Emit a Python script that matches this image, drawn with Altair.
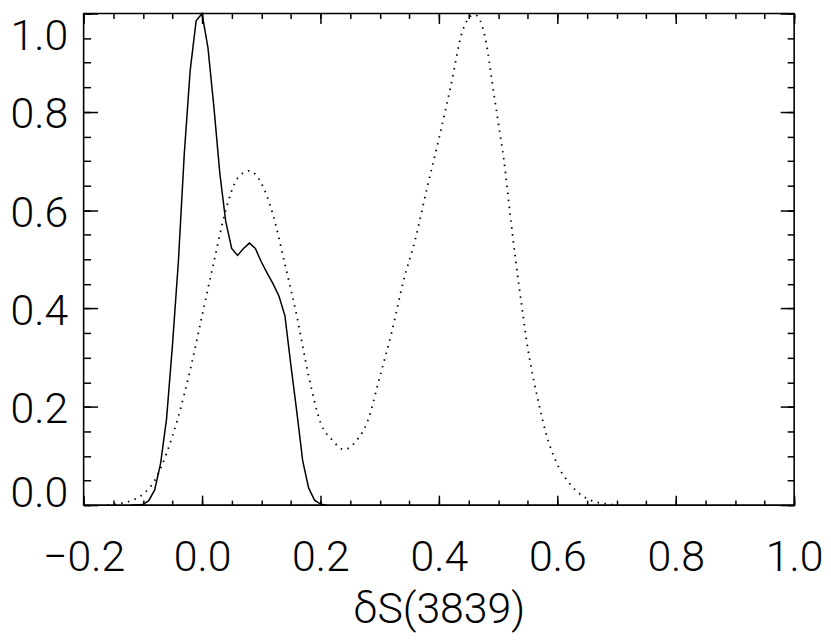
import altair as alt
import pandas as pd

# ---- data ----
solid_x = [-0.12, -0.11, -0.10, -0.09, -0.08, -0.07, -0.06, -0.05, -0.04, -0.03,
           -0.02, -0.01, 0.00, 0.01, 0.02, 0.03, 0.04, 0.05, 0.06, 0.07,
           0.08, 0.09, 0.10, 0.11, 0.12, 0.13, 0.14, 0.15, 0.16, 0.17,
           0.18, 0.19, 0.20, 0.21]
solid_y = [0.0, 0.0, 0.001, 0.009, 0.031, 0.085, 0.175, 0.325, 0.495, 0.715,
           0.885, 0.985, 1.0, 0.93, 0.81, 0.675, 0.577, 0.522, 0.508, 0.522,
           0.533, 0.522, 0.495, 0.472, 0.45, 0.425, 0.385, 0.285, 0.19, 0.09,
           0.035, 0.01, 0.002, 0.0]

dotted_x = [-0.16, -0.14, -0.12, -0.10, -0.08, -0.06, -0.04, -0.02, 0.00, 0.02,
            0.04, 0.06, 0.08, 0.10, 0.12, 0.14, 0.16, 0.18, 0.20, 0.22,
            0.24, 0.26, 0.28, 0.30, 0.32, 0.34, 0.36, 0.38, 0.40, 0.42,
            0.44, 0.45, 0.46, 0.47, 0.48, 0.49, 0.50, 0.51, 0.52, 0.53,
            0.54, 0.55, 0.56, 0.57, 0.58, 0.60, 0.62, 0.64, 0.66, 0.68, 0.70]
dotted_y = [0.0, 0.003, 0.009, 0.022, 0.05, 0.105, 0.18, 0.275, 0.385, 0.495,
            0.60, 0.665, 0.68, 0.655, 0.59, 0.49, 0.385, 0.263, 0.168, 0.132,
            0.113, 0.13, 0.172, 0.26, 0.35, 0.455, 0.54, 0.645, 0.745, 0.852,
            0.965, 0.99, 0.998, 0.985, 0.94, 0.86, 0.78, 0.70, 0.595, 0.495,
            0.405, 0.32, 0.255, 0.20, 0.15, 0.083, 0.045, 0.021, 0.008, 0.003, 0.0]

x_major = [-0.2, 0.0, 0.2, 0.4, 0.6, 0.8, 1.0]
x_minor = [-0.2, -0.15, -0.1, -0.05, 0.0, 0.05, 0.1, 0.15, 0.2, 0.25, 0.3, 0.35,
           0.4, 0.45, 0.5, 0.55, 0.6, 0.65, 0.7, 0.75, 0.8, 0.85, 0.9, 0.95, 1.0]
y_major = [0.0, 0.2, 0.4, 0.6, 0.8, 1.0]
y_minor = [0.0, 0.05, 0.1, 0.15, 0.2, 0.25, 0.3, 0.35, 0.4, 0.45, 0.5, 0.55,
           0.6, 0.65, 0.7, 0.75, 0.8, 0.85, 0.9, 0.95, 1.0]
x_title = "δS(3839)"

W, H = 714, 494
FONT = "Roboto"
FS = 43
FW = 300

solid = pd.DataFrame({"x": solid_x, "y": solid_y})
dotted = pd.DataFrame({"x": dotted_x, "y": dotted_y})

xs = alt.Scale(domain=[-0.2, 1.0], nice=False, zero=False)
ys = alt.Scale(domain=[0.0, 1.0], nice=False, zero=False)


def tick_axis(orient, values, size, offset):
    return alt.Axis(orient=orient, values=values, ticks=True, tickSize=size,
                    tickWidth=1.5, tickColor="black", labels=False,
                    domain=False, grid=False, title=None, offset=offset)


x_label_axis = alt.Axis(orient="bottom", values=x_major, format=".1f",
                        ticks=False, tickSize=0, domain=False, grid=False,
                        labelOverlap=False, labelFlush=False,
                        labelFont=FONT, labelFontSize=FS, labelFontWeight=FW,
                        labelColor="black", labelPadding=32,
                        title=x_title, titleFont=FONT, titleFontSize=FS,
                        titleFontWeight=FW, titleColor="black", titlePadding=9)

y_label_axis = alt.Axis(orient="left", values=y_major, format=".1f",
                        ticks=False, tickSize=0, domain=False, grid=False,
                        labelOverlap=False, labelFlush=False,
                        labelFont=FONT, labelFontSize=FS, labelFontWeight=FW,
                        labelColor="black", labelPadding=16,
                        labelBaseline="alphabetic",
                        labelOffset={"condition": [
                            {"test": "datum.value < 0.01", "value": 1},
                            {"test": "datum.value > 0.99", "value": 36}],
                            "value": 16},
                        minExtent=76, title=None)

solid_layer = alt.Chart(solid).mark_line(color="black", strokeWidth=1.5).encode(
    x=alt.X("x:Q", scale=xs, axis=x_label_axis),
    y=alt.Y("y:Q", scale=ys, axis=y_label_axis),
)

dotted_layer = alt.Chart(dotted).mark_line(
    color="black", strokeWidth=1.8, strokeDash=[1.5, 5.5], interpolate="monotone"
).encode(
    x=alt.X("x:Q", scale=xs, axis=tick_axis("top", x_major, 10, -H)),
    y=alt.Y("y:Q", scale=ys, axis=tick_axis("right", y_major, 14, -W)),
)

minor_a = alt.Chart(solid).mark_line(opacity=0).encode(
    x=alt.X("x:Q", scale=xs, axis=tick_axis("top", x_minor, 5, -H)),
    y=alt.Y("y:Q", scale=ys, axis=tick_axis("right", y_minor, 7, -W)),
)

major_b = alt.Chart(solid).mark_line(opacity=0).encode(
    x=alt.X("x:Q", scale=xs, axis=tick_axis("bottom", x_major, 10, -H)),
    y=alt.Y("y:Q", scale=ys, axis=tick_axis("left", y_major, 14, -W)),
)

minor_b = alt.Chart(solid).mark_line(opacity=0).encode(
    x=alt.X("x:Q", scale=xs, axis=tick_axis("bottom", x_minor, 5, -H)),
    y=alt.Y("y:Q", scale=ys, axis=tick_axis("left", y_minor, 7, -W)),
)

chart = alt.layer(solid_layer, dotted_layer, minor_a, major_b, minor_b).resolve_axis(
    x="independent", y="independent"
).properties(
    width=W, height=H,
    padding={"left": 0, "top": 1, "right": 0, "bottom": 3},
    background="white",
).configure_view(
    stroke="black", strokeWidth=1.6
)

chart.save("out.html", embed_options={"renderer": "svg", "actions": False})
